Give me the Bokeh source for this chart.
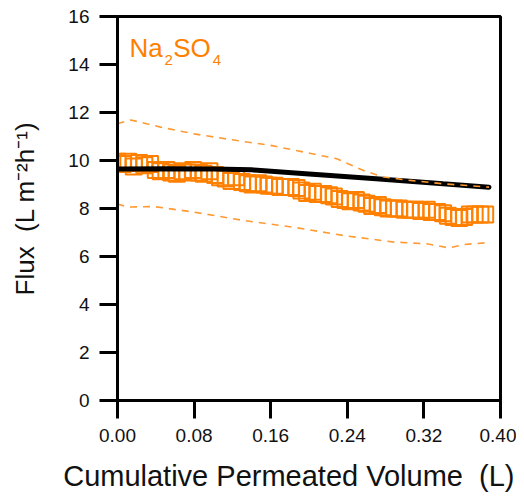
from bokeh.plotting import figure
from bokeh.models import Range1d, FixedTicker, PrintfTickFormatter, Label, ColumnDataSource
from bokeh.embed import file_html
from bokeh.resources import INLINE

# ---- data ----
vol = [0.000, 0.0056, 0.0113, 0.017, 0.0226, 0.028, 0.034, 0.040, 0.045, 0.051,
       0.056, 0.062, 0.068, 0.073, 0.079, 0.085, 0.090, 0.096, 0.102, 0.107,
       0.113, 0.119, 0.124, 0.130, 0.136, 0.141, 0.147, 0.153, 0.158, 0.164,
       0.170, 0.175, 0.181, 0.187, 0.192, 0.198, 0.204, 0.209, 0.215, 0.221,
       0.226, 0.232, 0.238, 0.243, 0.249, 0.255, 0.260, 0.266, 0.272, 0.277,
       0.283, 0.289, 0.294, 0.300, 0.306, 0.311, 0.317, 0.323, 0.328, 0.334,
       0.340, 0.345, 0.351, 0.357, 0.362, 0.368, 0.373, 0.379, 0.384]
flux = [9.95, 9.85, 9.95, 9.75, 9.90, 9.80, 9.85, 9.60, 9.55, 9.60,
        9.50, 9.45, 9.55, 9.50, 9.60, 9.50, 9.45, 9.55, 9.40, 9.30,
        9.25, 9.15, 9.30, 9.10, 9.05, 9.00, 9.05, 9.00, 8.95, 8.95,
        8.90, 8.90, 8.90, 8.85, 8.75, 8.65, 8.70, 8.60, 8.60, 8.55,
        8.50, 8.40, 8.35, 8.30, 8.35, 8.25, 8.20, 8.10, 8.15, 8.05,
        8.00, 8.00, 8.00, 7.95, 7.95, 7.95, 7.90, 7.95, 7.85, 7.85,
        7.80, 7.70, 7.65, 7.60, 7.65, 7.75, 7.75, 7.75, 7.75]

model_x = [0.0, 0.05, 0.10, 0.14, 0.20, 0.27, 0.34, 0.388]
model_y = [9.65, 9.66, 9.65, 9.61, 9.44, 9.24, 9.03, 8.89]

upper_x = [0.0, 0.014, 0.045, 0.08, 0.125, 0.16, 0.195, 0.229, 0.257, 0.278, 0.306, 0.34, 0.388]
upper_y = [11.53, 11.69, 11.39, 11.11, 10.83, 10.63, 10.35, 10.07, 9.58, 9.31, 9.17, 9.03, 8.89]

lower_x = [0.0, 0.01, 0.038, 0.08, 0.132, 0.184, 0.236, 0.289, 0.323, 0.346, 0.362, 0.384]
lower_y = [8.19, 8.06, 8.08, 7.85, 7.50, 7.22, 6.875, 6.60, 6.53, 6.36, 6.50, 6.57]

x_ticks = [0.0, 0.08, 0.16, 0.24, 0.32, 0.40]
y_ticks = [0, 2, 4, 6, 8, 10, 12, 14, 16]

x_title = "Cumulative Permeated Volume \u00a0(L)"
y_title = "Flux \u00a0(L m\u207b\u00b2h\u207b\u00b9)"

ORANGE = "#ff8000"
DASH_ORANGE = "#ff9a33"
FONT = "Liberation Sans"

p = figure(width=516, height=497, output_backend="svg", toolbar_location=None,
           x_range=Range1d(0, 0.40), y_range=Range1d(0, 16),
           min_border_left=117, min_border_right=16, min_border_top=16, min_border_bottom=97)
p.background_fill_color = "white"
p.border_fill_color = "white"
p.outline_line_color = "black"
p.outline_line_width = 3
p.xgrid.visible = False
p.ygrid.visible = False

for ax in (p.xaxis[0], p.yaxis[0]):
    ax.axis_line_width = 3
    ax.major_tick_line_width = 3
    ax.major_tick_out = 18
    ax.major_tick_in = 0
    ax.minor_tick_line_color = None
    ax.major_label_text_font = FONT
    ax.major_label_text_color = "#111111"
    ax.major_label_standoff = 10
    ax.axis_label_text_font = FONT
    ax.axis_label_text_font_style = "normal"
    ax.axis_label_text_color = "#111111"

p.xaxis.ticker = FixedTicker(ticks=x_ticks)
p.xaxis.formatter = PrintfTickFormatter(format="%.2f")
p.xaxis.major_label_text_font_size = "19px"
p.yaxis.ticker = FixedTicker(ticks=y_ticks)
p.yaxis.major_label_text_font_size = "19px"

p.yaxis.axis_label = y_title
p.yaxis.axis_label_text_font_size = "26px"
p.yaxis.axis_label_standoff = 25

# trailing no-break spaces shift the centred title left, as in the reference
p.xaxis.axis_label = x_title + "\u00a0" * 5
p.xaxis.axis_label_text_font_size = "29px"
p.xaxis.axis_label_standoff = 15

src = ColumnDataSource(dict(x=vol, y=flux))
p.scatter("x", "y", source=src, marker="square", size=16, fill_color=None,
          line_color=ORANGE, line_width=2)
p.line(model_x, model_y, line_color="black", line_width=5, line_cap="round")
p.line(upper_x, upper_y, line_color=DASH_ORANGE, line_width=1.6, line_dash="7 6")
p.line(lower_x, lower_y, line_color=DASH_ORANGE, line_width=1.6, line_dash="7 6")

# Na2SO4 label with subscripts
p.add_layout(Label(x=0.0125, y=14.667, text="Na", text_font=FONT, text_font_size="26px",
                   text_color=ORANGE, text_baseline="alphabetic", text_align="left"))
p.add_layout(Label(x=0.0491, y=14.19, text="2", text_font=FONT, text_font_size="15px",
                   text_color=ORANGE, text_baseline="alphabetic", text_align="left"))
p.add_layout(Label(x=0.0582, y=14.667, text="SO", text_font=FONT, text_font_size="26px",
                   text_color=ORANGE, text_baseline="alphabetic", text_align="left"))
p.add_layout(Label(x=0.0994, y=14.19, text="4", text_font=FONT, text_font_size="15px",
                   text_color=ORANGE, text_baseline="alphabetic", text_align="left"))

open("out.html", "w").write(file_html(p, INLINE))
